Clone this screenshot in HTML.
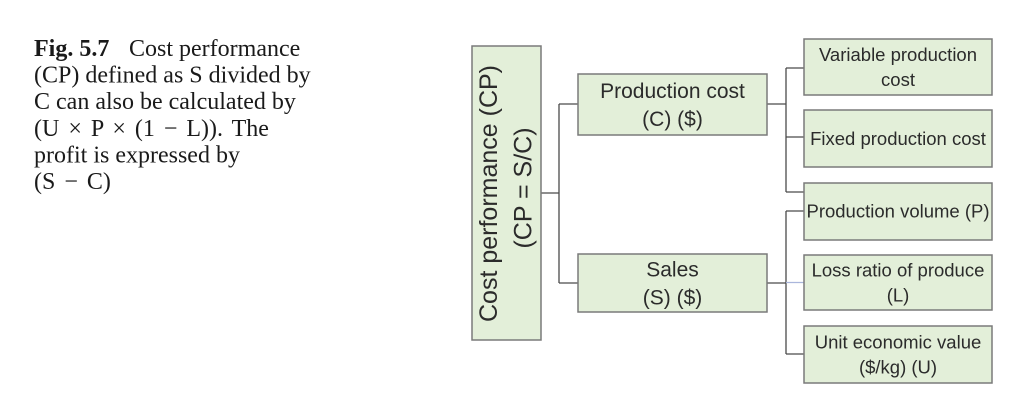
<!DOCTYPE html>
<html>
<head>
<meta charset="utf-8">
<style>
  html, body { margin: 0; padding: 0; background: #ffffff; }
  body { width: 1024px; height: 409px; overflow: hidden; }
  svg { display: block; }
</style>
</head>
<body>
<svg width="1024" height="409" viewBox="0 0 1024 409" xmlns="http://www.w3.org/2000/svg">
  <rect x="0" y="0" width="1024" height="409" fill="#ffffff"/>

  <!-- Caption -->
  <g font-family="'Liberation Serif', 'Times New Roman', serif" font-size="24" fill="#1a1a1a">
    <text x="34" y="56"><tspan font-weight="bold">Fig. 5.7</tspan><tspan x="129">Cost performance</tspan></text>
    <text x="34" y="82.6">(CP) defined as S divided by</text>
    <text x="34" y="109.2">C can also be calculated by</text>
    <text x="34" y="135.8" word-spacing="3">(U × P × (1 − L)). The</text>
    <text x="34" y="162.4">profit is expressed by</text>
    <text x="34" y="189" word-spacing="3">(S − C)</text>
  </g>

  <!-- Connectors -->
  <g stroke="#4a4a4a" stroke-width="1.3" fill="none">
    <line x1="541" y1="193" x2="559" y2="193"/>
    <line x1="559" y1="104" x2="559" y2="283"/>
    <line x1="559" y1="104" x2="578" y2="104"/>
    <line x1="559" y1="283" x2="578" y2="283"/>
    <line x1="767" y1="104" x2="786" y2="104"/>
    <line x1="786" y1="68" x2="786" y2="192"/>
    <line x1="786" y1="68" x2="804" y2="68"/>
    <line x1="786" y1="137" x2="804" y2="137"/>
    <line x1="786" y1="192" x2="804" y2="192"/>
    <line x1="767" y1="283" x2="786" y2="283"/>
    <line x1="786" y1="211" x2="786" y2="354"/>
    <line x1="786" y1="211" x2="804" y2="211"/>
    <line x1="786" y1="354" x2="804" y2="354"/>
  </g>
  <line x1="786" y1="282.5" x2="804" y2="282.5" stroke="#aab6dc" stroke-width="1.3"/>

  <!-- Boxes -->
  <g fill="#e3efd9" stroke="#7a7a7a" stroke-width="1.5">
    <rect x="472" y="46" width="69" height="294"/>
    <rect x="578" y="74" width="189" height="61"/>
    <rect x="578" y="254" width="189" height="58"/>
    <rect x="804" y="39" width="188" height="56"/>
    <rect x="804" y="110" width="188" height="57"/>
    <rect x="804" y="183" width="188" height="57"/>
    <rect x="804" y="255" width="188" height="55"/>
    <rect x="804" y="326" width="188" height="57"/>
  </g>

  <!-- Root text (rotated) -->
  <g font-family="'Liberation Sans', Arial, sans-serif" font-size="25" fill="#2b2b2b" text-anchor="middle">
    <text transform="translate(497,193.5) rotate(-90)">Cost performance (CP)</text>
    <text transform="translate(531.5,188) rotate(-90)">(CP = S/C)</text>
  </g>

  <!-- Level 1 text -->
  <g font-family="'Liberation Sans', Arial, sans-serif" font-size="21" fill="#2b2b2b" text-anchor="middle">
    <text x="672.5" y="97.8">Production cost</text>
    <text x="672.5" y="125.8">(C) ($)</text>
    <text x="672.5" y="276.3">Sales</text>
    <text x="672.5" y="304.3">(S) ($)</text>
  </g>

  <!-- Level 2 text -->
  <g font-family="'Liberation Sans', Arial, sans-serif" font-size="18.5" fill="#2b2b2b" text-anchor="middle">
    <text x="898" y="61">Variable production</text>
    <text x="898" y="86">cost</text>
    <text x="898" y="145">Fixed production cost</text>
    <text x="898" y="217.5">Production volume (P)</text>
    <text x="898" y="276.6">Loss ratio of produce</text>
    <text x="898" y="301.6">(L)</text>
    <text x="898" y="348.5">Unit economic value</text>
    <text x="898" y="373.5">($/kg) (U)</text>
  </g>
</svg>
</body>
</html>
